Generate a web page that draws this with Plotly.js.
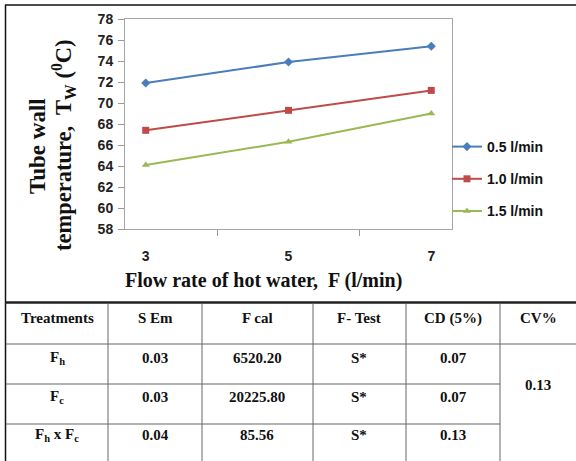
<!DOCTYPE html>
<html><head><meta charset="utf-8">
<script src="https://cdn.plot.ly/plotly-3.0.1.min.js"></script>
<style>html,body{margin:0;padding:0;background:#fff}</style>
</head><body><div id="chart" style="width:576px;height:461px"></div>
<script>
// ---- data ----
const flowRates = ["3", "5", "7"];
const seriesNames = ["0.5 l/min", "1.0 l/min", "1.5 l/min"];
const tw05 = [71.9, 73.9, 75.4];
const tw10 = [67.4, 69.3, 71.2];
const tw15 = [64.1, 66.3, 69.0];
const tableHeaders = ["Treatments", "S Em", "F cal", "F- Test", "CD (5%)", "CV%"];
const treatments = ["F<sub>h</sub>", "F<sub>c</sub>", "F<sub>h</sub> x F<sub>c</sub>"];
const sem = ["0.03", "0.03", "0.04"];
const fcal = ["6520.20", "20225.80", "85.56"];
const ftest = ["S*", "S*", "S*"];
const cd = ["0.07", "0.07", "0.13"];
const cv = "0.13";

// ---- layout helpers ----
const W = 576, H = 461;
const px = x => x / W;
const py = y => 1 - y / H;

const colors = ["#4A7EBB", "#BE4B48", "#98B954"];
const symbols = ["diamond", "square", "triangle-up"];
const values = [tw05, tw10, tw15];

const traces = values.map((v, i) => ({
  x: flowRates, y: v, type: "scatter", mode: "lines+markers",
  name: seriesNames[i], legendgroup: "g" + i,
  line: {color: colors[i], width: 2},
  marker: {color: colors[i], symbol: symbols[i], size: 7}
}));

const serif = "Liberation Serif, Times New Roman, serif";
const sans = "Liberation Sans, Arial, sans-serif";

const shapes = [];
function line(x0, y0, x1, y1, w, c) {
  shapes.push({type: "line", xref: "paper", yref: "paper",
    x0: px(x0), y0: py(y0), x1: px(x1), y1: py(y1),
    line: {color: c || "#555", width: w || 1}});
}
// outer frame
line(5, 5, 576, 5, 1.5, "#111");
line(5.5, 5, 5.5, 461, 1.5, "#111");
line(5, 302.5, 576, 302.5, 2.5, "#222");
// table grid
[108, 202, 313, 406, 500].forEach(x => line(x, 303, x, 461, 1, "#666"));
line(6, 344, 576, 344, 1, "#666");
line(6, 384, 500, 384, 1, "#666");
line(6, 424, 500, 424, 1, "#666");

const annotations = [];
function txt(t, x, y, opts) {
  annotations.push(Object.assign({text: t, xref: "paper", yref: "paper",
    x: px(x), y: py(y), xanchor: "center", yanchor: "middle", showarrow: false,
    font: {family: serif, size: 15, color: "#111", weight: "bold"}}, opts || {}));
}
// axis titles
txt("Flow rate of hot water,  F (l/min)", 263, 280, {font: {family: serif, size: 20, color: "#111", weight: "bold"}});
txt("Tube wall", 38, 146, {textangle: -90, font: {family: serif, size: 23, color: "#111", weight: "bold"}});
txt("temperature,  T<sub>W</sub> (<sup>0</sup>C)", 64, 145, {textangle: -90, font: {family: serif, size: 22.5, color: "#111", weight: "bold"}});

// table text
const colCenters = [57, 155, 257, 359, 453, 538];
tableHeaders.forEach((h, i) => txt(h, colCenters[i], 318));
const rowY = [358, 397, 435];
const cols = [treatments, sem, fcal, ftest, cd];
cols.forEach((col, ci) => col.forEach((v, ri) => txt(v, colCenters[ci], rowY[ri])));
txt(cv, colCenters[5], 385);

const layout = {
  width: W, height: H,
  margin: {l: 0, r: 0, t: 0, b: 0},
  paper_bgcolor: "#fff", plot_bgcolor: "#fff",
  showlegend: true,
  legend: {x: px(447), y: py(131), xanchor: "left", yanchor: "top",
    font: {family: sans, size: 14, color: "#111", weight: "bold"}, tracegroupgap: 11,
    bgcolor: "rgba(0,0,0,0)"},
  xaxis: {domain: [px(125), px(452)], type: "category", tickson: "boundaries",
    ticks: "outside", ticklen: 6, tickcolor: "#999", showline: true, mirror: true,
    linecolor: "#a6a6a6", linewidth: 1, showgrid: false, zeroline: false,
    ticklabelstandoff: 14,
    tickfont: {family: sans, size: 14, color: "#222", weight: "bold"}},
  yaxis: {domain: [py(229), py(19)], range: [58, 78], dtick: 2,
    ticks: "outside", ticklen: 6, tickcolor: "#999", showline: true, mirror: true,
    linecolor: "#a6a6a6", linewidth: 1, showgrid: false, zeroline: false,
    ticklabelstandoff: 2,
    tickfont: {family: sans, size: 14, color: "#222", weight: "bold"}},
  shapes: shapes,
  annotations: annotations
};

Plotly.newPlot("chart", traces, layout, {displayModeBar: false, staticPlot: true});
</script>
</body></html>
